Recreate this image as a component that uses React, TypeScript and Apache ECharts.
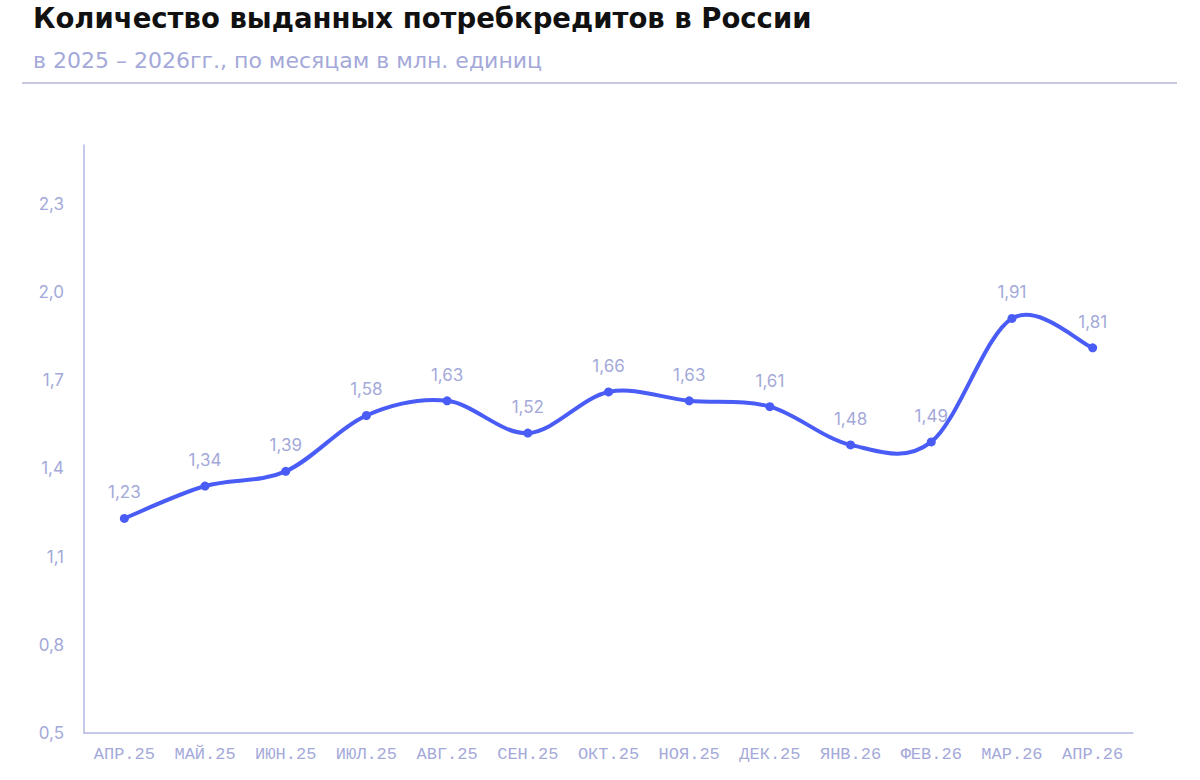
import { useEffect, useRef } from 'react'
import * as echarts from 'echarts'

const months = [
  'АПР.25', 'МАЙ.25', 'ИЮН.25', 'ИЮЛ.25', 'АВГ.25', 'СЕН.25', 'ОКТ.25',
  'НОЯ.25', 'ДЕК.25', 'ЯНВ.26', 'ФЕВ.26', 'МАР.26', 'АПР.26',
]
const loans = [1.23, 1.34, 1.39, 1.58, 1.63, 1.52, 1.66, 1.63, 1.61, 1.48, 1.49, 1.91, 1.81]

const title = 'Количество выданных потребкредитов в России'
const subtitle = 'в 2025 – 2026гг., по месяцам в млн. единиц'

const lineColor = '#4a5cf6'
const mutedColor = '#a4a9d9'
const axisColor = '#b3b8e3'
const font = 'Inter, "Noto Sans", sans-serif'

const fmt = (v: number) => String(v).replace('.', ',')

// catmull-rom segment i -> i+1, drawn as a cubic bezier (echarts' own smoothing clamps the peaks)
function renderSegment(params: any, api: any) {
  const i = params.dataIndex
  if (i >= loans.length - 1) return null
  const pt = (k: number) => {
    const j = Math.max(0, Math.min(loans.length - 1, k))
    return api.coord([j, loans[j]])
  }
  const p0 = pt(i - 1)
  const p1 = pt(i)
  const p2 = pt(i + 1)
  const p3 = pt(i + 2)
  const t = 1 / 6
  return {
    type: 'bezierCurve',
    shape: {
      x1: p1[0],
      y1: p1[1],
      cpx1: p1[0] + (p2[0] - p0[0]) * t,
      cpy1: p1[1] + (p2[1] - p0[1]) * t,
      cpx2: p2[0] - (p3[0] - p1[0]) * t,
      cpy2: p2[1] - (p3[1] - p1[1]) * t,
      x2: p2[0],
      y2: p2[1],
    },
    style: { stroke: lineColor, lineWidth: 4, fill: 'none', lineCap: 'round' },
  }
}

export default function App() {
  const ref = useRef<HTMLDivElement | null>(null)

  useEffect(() => {
    if (!ref.current) return
    const chart = echarts.init(ref.current, undefined, { renderer: 'svg' })

    chart.setOption({
      animation: false,
      backgroundColor: '#fff',
      textStyle: { fontFamily: font },
      graphic: [
        {
          type: 'text',
          left: 33,
          top: 4,
          style: { text: title, fontSize: 27.5, fontWeight: 700, fill: '#111', fontFamily: '"DejaVu Sans"' },
        },
        {
          type: 'text',
          left: 33,
          top: 49,
          style: { text: subtitle, fontSize: 22, fill: mutedColor, fontFamily: '"DejaVu Sans"' },
        },
        {
          type: 'line',
          shape: { x1: 22, y1: 83, x2: 1177, y2: 83 },
          style: { stroke: '#c6c8e0', lineWidth: 2 },
        },
      ],
      grid: { left: 84, right: 67, top: 145, bottom: 47 },
      xAxis: {
        type: 'category',
        data: months,
        boundaryGap: true,
        axisLine: { lineStyle: { color: axisColor, width: 1.5 } },
        axisTick: { show: false },
        axisLabel: { color: mutedColor, fontSize: 17, margin: 13, interval: 0, fontFamily: '"Liberation Mono"' },
      },
      yAxis: {
        type: 'value',
        min: 0.5,
        max: 2.5,
        interval: 0.3,
        axisLine: { show: true, lineStyle: { color: axisColor, width: 1.5 } },
        axisTick: { show: false },
        splitLine: { show: false },
        axisLabel: {
          color: mutedColor,
          fontSize: 17,
          margin: 20,
          showMaxLabel: false,
          formatter: (v: number) => fmt(Math.round(v * 10) / 10).replace(/^(\d)$/, '$1,0'),
        },
      },
      series: [
        {
          type: 'custom',
          data: loans.map((v, i) => [i, v]),
          renderItem: renderSegment,
          silent: true,
          z: 1,
        },
        {
          type: 'line',
          data: loans,
          symbol: 'circle',
          symbolSize: 9,
          itemStyle: { color: lineColor },
          lineStyle: { width: 0, opacity: 0 },
          z: 2,
          label: {
            show: true,
            position: 'top',
            distance: 13,
            color: mutedColor,
            fontSize: 17,
            formatter: (p: any) => fmt(p.value),
          },
        },
      ],
    })

    return () => chart.dispose()
  }, [])

  return <div ref={ref} style={{ position: 'fixed', left: 0, top: 0, width: 1200, height: 780 }} />
}
